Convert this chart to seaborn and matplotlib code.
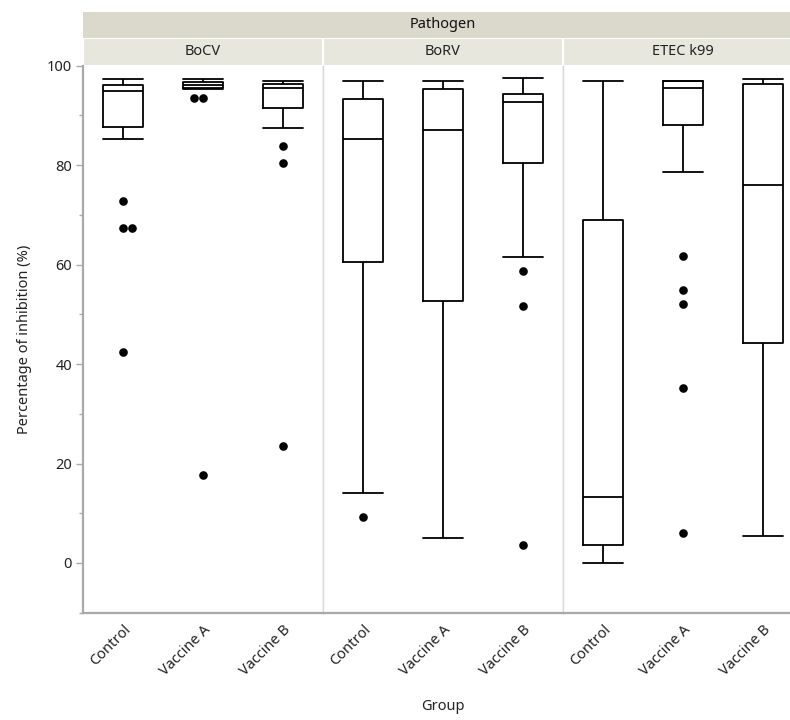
import numpy as np
import pandas as pd
import matplotlib.pyplot as plt
import seaborn as sns
from matplotlib.ticker import MultipleLocator
from matplotlib.transforms import ScaledTranslation

pathogens = ["BoCV", "BoRV", "ETEC k99"]
groups = ["Control", "Vaccine A", "Vaccine B"]

# box summaries, rows = pathogen, columns = group
whisker_low = [[85.3, 95.3, 87.4], [14.0, 5.0, 61.6], [0.0, 78.7, 5.4]]
q1 = [[87.7, 95.5, 91.5], [60.5, 52.7, 80.5], [3.6, 88.0, 44.3]]
median = [[95.0, 96.2, 95.6], [85.3, 87.1, 92.6], [13.3, 95.5, 76.0]]
q3 = [[96.1, 96.8, 96.4], [93.4, 95.4, 94.3], [68.9, 96.9, 96.4]]
whisker_high = [[97.3, 97.3, 97.0], [96.9, 96.9, 97.6], [97.0, 97.0, 97.3]]

# points drawn outside the whiskers
outlier_pathogen = ["BoCV"] * 10 + ["BoRV"] * 4 + ["ETEC k99"] * 5
outlier_group = (["Control"] * 4 + ["Vaccine A"] * 3 + ["Vaccine B"] * 3
                 + ["Control"] + ["Vaccine B"] * 3 + ["Vaccine A"] * 5)
outlier_value = [72.8, 67.3, 67.3, 42.5, 93.6, 93.6, 17.6, 83.8, 80.5, 23.5,
                 9.3, 58.8, 51.7, 3.6,
                 61.8, 54.8, 52.1, 35.2, 6.0]

W, H = 790, 720

sns.set_theme(style="white")
plt.rcParams["font.family"] = ["Noto Sans", "DejaVu Sans"]

# long table: five values per box reproduce its quartiles and whisker ends
rows = []
for i, p in enumerate(pathogens):
    for j, g in enumerate(groups):
        for v in (whisker_low[i][j], q1[i][j], median[i][j], q3[i][j], whisker_high[i][j]):
            rows.append({"Pathogen": p, "Group": g, "value": v})
box_df = pd.DataFrame(rows)
out_df = pd.DataFrame({"Pathogen": outlier_pathogen, "Group": outlier_group,
                       "value": outlier_value})

fig = plt.figure(figsize=(W / 100, H / 100), dpi=100)
ax_bottom, ax_top = 612.7, 65.7
panel_w = 240
lefts = [83, 323, 563]
shift = ScaledTranslation(6 / 100, 0, fig.dpi_scale_trans)

axes = []
for k, p in enumerate(pathogens):
    ax = fig.add_axes([lefts[k] / W, 1 - ax_bottom / H, panel_w / W, (ax_bottom - ax_top) / H])
    axes.append(ax)
    sub = box_df[box_df["Pathogen"] == p]
    sns.boxplot(data=sub, x="Group", y="value", order=groups, ax=ax,
                whis=(0, 100), showfliers=False, fill=False,
                color="black", linecolor="black", linewidth=1.3, width=0.5,
                capwidths=0.5)
    sns.swarmplot(data=out_df[out_df["Pathogen"] == p], x="Group", y="value",
                  order=groups, ax=ax, color="black", size=6.2)
    ax.set_xlim(-0.5, 2.5)
    ax.set_ylim(-10, 100)
    ax.set_xlabel("")
    ax.set_ylabel("")
    ax.set_xticks(range(len(groups)))
    ax.set_xticklabels(groups, rotation=45, ha="right", rotation_mode="anchor",
                       fontsize=10.5, color="#222222")
    for lab in ax.get_xticklabels():
        lab.set_transform(lab.get_transform() + shift)
    ax.tick_params(axis="x", length=0, pad=7)
    ax.spines["top"].set_visible(False)
    ax.spines["bottom"].set_color("#a9a9a9")
    ax.spines["bottom"].set_linewidth(1.6)
    ax.spines["left"].set_color("#d9d9d9")
    ax.spines["left"].set_linewidth(1.0)
    ax.spines["right"].set_color("#d9d9d9")
    ax.spines["right"].set_linewidth(1.0)
    if k == 0:
        ax.spines["left"].set_color("#a9a9a9")
        ax.spines["left"].set_linewidth(1.6)
        ax.yaxis.set_major_locator(MultipleLocator(20))
        ax.yaxis.set_minor_locator(MultipleLocator(10))
        ax.tick_params(axis="y", which="major", left=True, length=5, width=1,
                       color="#a9a9a9", labelsize=10.5, labelcolor="#222222", pad=3)
        ax.tick_params(axis="y", which="minor", left=True, length=3, width=1,
                       color="#a9a9a9")
    else:
        ax.tick_params(axis="y", which="both", left=False, labelleft=False)

# facet strips
for k, p in enumerate(pathogens):
    sax = fig.add_axes([(lefts[k] + 1) / W, 1 - 64.5 / H, (panel_w - 2) / W, 25.5 / H])
    sax.set_facecolor("#e8e7de")
    sax.set_xticks([])
    sax.set_yticks([])
    for s in sax.spines.values():
        s.set_visible(False)
    sax.text(0.5, 0.5, p, ha="center", va="center", fontsize=10.5, color="#222222",
             transform=sax.transAxes)

hax = fig.add_axes([lefts[0] / W, 1 - 37.7 / H, (lefts[-1] + panel_w - lefts[0]) / W, 25.7 / H])
hax.set_facecolor("#dad9cc")
hax.set_xticks([])
hax.set_yticks([])
for s in hax.spines.values():
    s.set_visible(False)
hax.text(0.5, 0.5, "Pathogen", ha="center", va="center", fontsize=10.5,
         fontweight="bold", color="#111111", transform=hax.transAxes)

fig.text(25 / W, 1 - 339 / H, "Percentage of inhibition (%)", rotation=90,
         ha="center", va="center", fontsize=10.5, color="#222222")
fig.text(443 / W, 1 - 707 / H, "Group", ha="center", va="center",
         fontsize=10.5, color="#222222")

fig.savefig("out.png", dpi=100)
